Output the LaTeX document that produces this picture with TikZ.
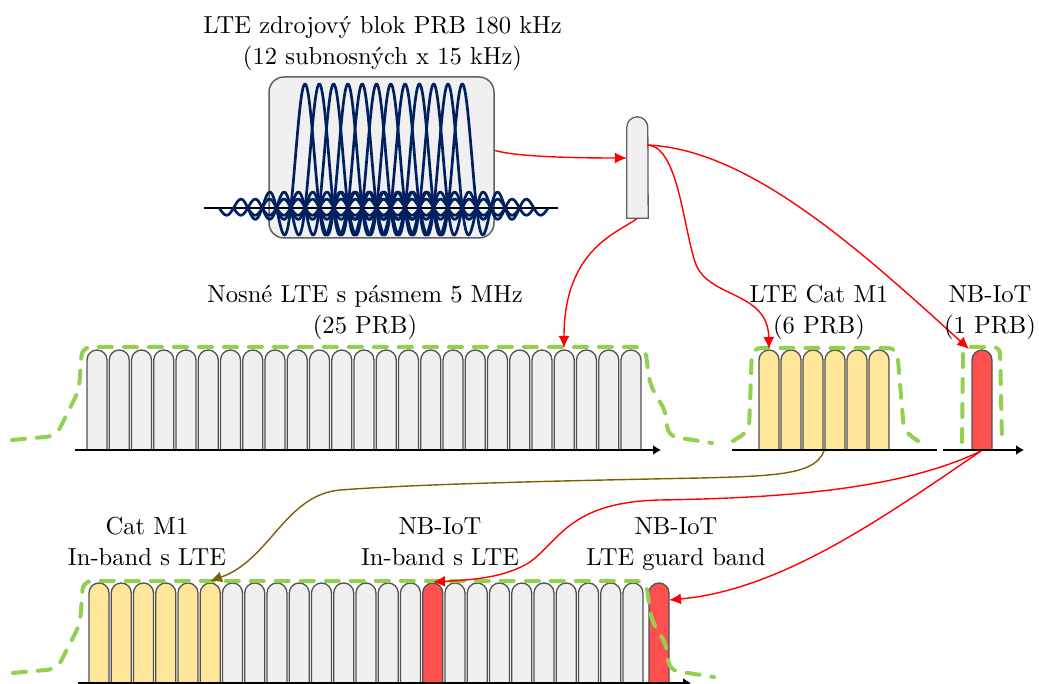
\documentclass[tikz,border=0pt]{standalone}
\usetikzlibrary{arrows.meta}
\definecolor{ltefill}{HTML}{F0F0F0}
\definecolor{catfill}{HTML}{FFE699}
\definecolor{nbfill}{HTML}{FF5050}
\definecolor{envgreen}{HTML}{92D050}
\definecolor{navy}{HTML}{002060}
\definecolor{edgegray}{HTML}{505050}
\definecolor{boxgray}{HTML}{606060}
\definecolor{arrred}{HTML}{FF0000}
\definecolor{arrbrown}{HTML}{7F6000}
\newcommand\prbbar[3]{\draw[prb,fill=#3] ({#1},{#2}) -- ++(0,90) arc[start angle=180,end angle=0,radius=10pt] -- ++(0,-90) -- cycle;}
\begin{document}
\begin{tikzpicture}[x=1pt,y=1pt,
  lbl/.style={align=center,font=\fontsize{10}{12.6}\selectfont,scale=2.46,transform shape,inner sep=0pt,anchor=north},
  blockst/.style={draw=boxgray,line width=1.5pt,fill=ltefill,rounded corners=15pt,minimum width=225pt,minimum height=161pt,inner sep=0pt},
  antbox/.style={minimum width=21pt,minimum height=101pt,inner sep=0pt},
  antst/.style={draw=boxgray,line width=1.3pt,fill=ltefill},
  prb/.style={draw=edgegray,line width=1.3pt},
  sincline/.style={navy,line width=2.7pt},
  axisarr/.style={black,line width=1.4pt,-{Latex[length=8pt,width=10pt]}},
  axisline/.style={black,line width=1.4pt},
  env/.style={envgreen,line width=4pt,line cap=round,dash pattern=on 13pt off 12pt,rounded corners=9pt},
  rarrow/.style={arrred,line width=1.4pt,-{Latex[length=12pt,width=11pt]}},
  barrow/.style={arrbrown,line width=1.4pt,-{Latex[length=12pt,width=11pt]}}
]
\useasboundingbox (0,0) rectangle (1039,-684);

% source block with sinc subcarriers
\node[blockst] (blk) at (381.5,-157.5) {};
\draw[axisline] (204,-208) -- (558,-208);
\foreach \k in {0,...,11}{
  \draw[sincline] plot[domain=-6:6,samples=240,smooth] ({305+14.3*\k+14.3*\x},{-208+124*sin(180*\x)/(3.14159*\x)});
}

% splitter element
\node[antbox] (ant) at (637.5,-167.5) {};
\draw[antst] (ant.south west) -- ([yshift=-10.5pt]ant.north west) arc[start angle=180,end angle=0,radius=10.5pt] -- (ant.south east) -- cycle;

% middle row: LTE 25 PRB
\foreach \i in {0,...,24}{\prbbar{87+22.25*\i}{-450}{ltefill}}
% Cat M1 6 PRB
\foreach \i in {0,...,5}{\prbbar{759+22*\i}{-450}{catfill}}
% NB-IoT 1 PRB
\prbbar{972}{-450}{nbfill}

% bottom row
\foreach \i in {0,...,24}{
  \ifnum\i<6 \def\bc{catfill}\else\ifnum\i=15 \def\bc{nbfill}\else\def\bc{ltefill}\fi\fi
  \prbbar{89+22.25*\i}{-683}{\bc}
}
\prbbar{649}{-683}{nbfill}

% axes
\draw[axisarr] (75,-450) -- (661,-450);
\draw[axisline] (732,-450) -- (937,-450);
\draw[axisarr] (943,-450) -- (1024,-450);
\draw[axisarr] (78,-683) -- (691,-683);

% envelopes
\draw[env] (12,-440) -- (56,-436) -- (79,-390) -- (82,-347) -- (645,-347) -- (650,-385) -- (666,-412) -- (668,-436) -- (712,-443);
\draw[env] (13,-673) -- (57,-669) -- (80,-624) -- (83,-581) -- (646,-581) -- (651,-619) -- (667,-646) -- (669,-670) -- (714,-677);
\draw[env] (733,-441) -- (749,-431) -- (752,-348) -- (897,-348) -- (904,-431) -- (918,-441);
\draw[env,rounded corners=7pt] (962,-442) -- (963,-347) -- (1000,-347) -- (1002,-442);

% connector end points
\coordinate (t21) at (564,-348);
\coordinate (cat0) at (769,-349);
\coordinate (nbt) at (969,-349);
\coordinate (catb) at (824,-451);
\coordinate (nbb) at (981,-451);
\coordinate (b5) at (210,-581);
\coordinate (b15) at (433,-582);
\coordinate (gE) at (669,-600);

% connectors
\draw[rarrow] ([yshift=7pt]blk.east) .. controls +(25,-7) and +(-40,0) .. ([yshift=9.5pt]ant.west);
\draw[rarrow] (ant.south) .. controls +(-18,-14) and +(0,100) .. (t21);
\draw[rarrow] ([yshift=22.5pt]ant.east) .. controls (678,-148) and (683,-225) .. (695,-262) .. controls (707,-299) and (768,-290) .. (cat0);
\draw[rarrow] ([yshift=22.5pt]ant.east) .. controls (750,-150) and (860,-250) .. (nbt);
\draw[barrow] (catb) .. controls (815,-474) and (780,-476) .. (700,-478) .. controls (550,-481) and (420,-484) .. (340,-490) .. controls (285,-495) and (270,-560) .. (b5);
\draw[rarrow] (nbb) .. controls (900,-490) and (780,-498) .. (660,-500) .. controls (570,-502) and (560,-540) .. (530,-562) .. controls (505,-578) and (470,-580) .. (b15);
\draw[rarrow] (nbb) .. controls (880,-520) and (780,-590) .. (gE);

% labels
\node[lbl] (tsrc) at (382.5,-16) {LTE zdrojový blok PRB 180 kHz\\(12 subnosných x 15 kHz)};
\node[lbl] (tlte) at (365,-285) {Nosné LTE s pásmem 5 MHz\\(25 PRB)};
\node[lbl] (tcat) at (819,-285) {LTE Cat M1\\(6 PRB)};
\node[lbl] (tnb) at (990,-285) {NB-IoT\\(1 PRB)};
\node[lbl] (tbcat) at (147,-517) {Cat M1\\In-band s LTE};
\node[lbl] (tbnb) at (440,-517) {NB-IoT\\In-band s LTE};
\node[lbl] (tbg) at (676,-517) {NB-IoT\\LTE guard band};
\end{tikzpicture}
\end{document}
